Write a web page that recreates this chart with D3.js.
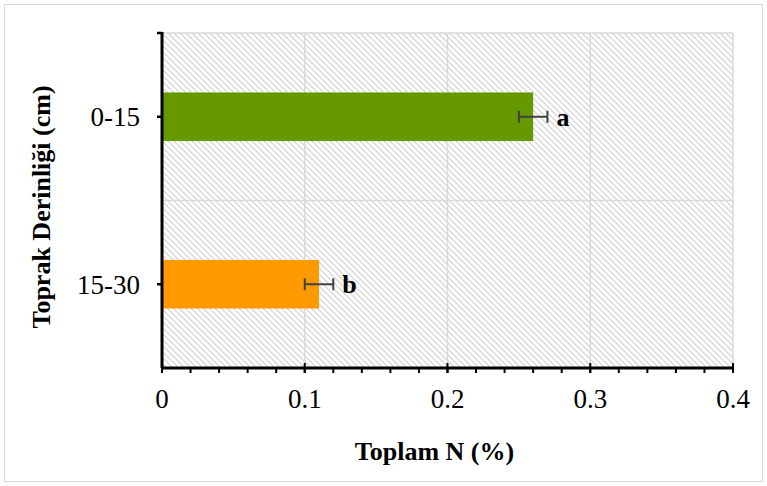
<!DOCTYPE html>
<html>
<head>
<meta charset="utf-8">
<script src="https://cdn.jsdelivr.net/npm/d3@7"></script>
<style>
  body { margin: 0; background: #fff; }
  svg text { font-family: "Liberation Serif", "Times New Roman", serif; }
</style>
</head>
<body>
<div id="chart"></div>
<script>
// Datos del gráfico
const derinlik = ["0-15", "15-30"];
const toplamN = [0.26, 0.11];
const hata = [0.01, 0.01];
const harfler = ["a", "b"];
const renkler = ["#669900", "#ff9900"];
const xTicks = [0, 0.1, 0.2, 0.3, 0.4];

const width = 767, height = 486;
const margin = { top: 33, right: 34, bottom: 118, left: 162 };
const iw = width - margin.left - margin.right;
const ih = height - margin.top - margin.bottom;

const svg = d3.select("#chart").append("svg")
    .attr("width", width)
    .attr("height", height);

// Marco exterior
svg.append("rect")
    .attr("x", 4.5).attr("y", 4.5)
    .attr("width", width - 9).attr("height", height - 9)
    .attr("fill", "#fff")
    .attr("stroke", "#d9d9d9");

// Patrón rayado del fondo
const pat = svg.append("defs").append("pattern")
    .attr("id", "rayas")
    .attr("patternUnits", "userSpaceOnUse")
    .attr("width", 6).attr("height", 6);
pat.append("path")
    .attr("d", "M-1,-1 L7,7 M-4,2 L4,10 M2,-4 L10,4")
    .attr("stroke", "#d6d6d6")
    .attr("stroke-width", 1.3);

const g = svg.append("g")
    .attr("transform", `translate(${margin.left},${margin.top})`);

const x = d3.scaleLinear().domain([0, 0.4]).range([0, iw]);
const y = d3.scaleBand().domain(derinlik).range([0, ih]).paddingInner(0).paddingOuter(0);
const barH = y.bandwidth() * 0.29;

g.append("rect")
    .attr("width", iw).attr("height", ih)
    .attr("fill", "url(#rayas)");

// Rejilla
g.selectAll(".vgrid")
    .data(xTicks.slice(1))
    .enter().append("line")
    .attr("x1", d => x(d)).attr("x2", d => x(d))
    .attr("y1", 0).attr("y2", ih)
    .attr("stroke", "#d9d9d9").attr("stroke-width", 1.5);

g.selectAll(".hgrid")
    .data([0, y.bandwidth()])
    .enter().append("line")
    .attr("x1", 0).attr("x2", iw)
    .attr("y1", d => d).attr("y2", d => d)
    .attr("stroke", "#d9d9d9").attr("stroke-width", 1.5);

// Barras
g.selectAll(".bar")
    .data(derinlik)
    .enter().append("rect")
    .attr("x", 0)
    .attr("y", d => y(d) + y.bandwidth() / 2 - barH / 2)
    .attr("width", (d, i) => x(toplamN[i]))
    .attr("height", barH)
    .attr("fill", (d, i) => renkler[i]);

// Barras de error
const err = g.selectAll(".err").data(derinlik).enter().append("g")
    .attr("transform", d => `translate(0,${y(d) + y.bandwidth() / 2})`)
    .attr("stroke", "#404040").attr("stroke-width", 2);
err.append("line")
    .attr("x1", (d, i) => x(toplamN[i] - hata[i]))
    .attr("x2", (d, i) => x(toplamN[i] + hata[i]));
err.append("line")
    .attr("x1", (d, i) => x(toplamN[i] - hata[i]))
    .attr("x2", (d, i) => x(toplamN[i] - hata[i]))
    .attr("y1", -6).attr("y2", 6);
err.append("line")
    .attr("x1", (d, i) => x(toplamN[i] + hata[i]))
    .attr("x2", (d, i) => x(toplamN[i] + hata[i]))
    .attr("y1", -6).attr("y2", 6);

// Letras de significancia
g.selectAll(".harf")
    .data(derinlik)
    .enter().append("text")
    .attr("x", (d, i) => x(toplamN[i] + hata[i]) + 9)
    .attr("y", d => y(d) + y.bandwidth() / 2)
    .attr("dy", "0.35em")
    .attr("font-size", 26)
    .attr("font-weight", "bold")
    .text((d, i) => harfler[i]);

// Eje X
const minor = d3.range(0, 0.4001, 0.02);
g.selectAll(".minor")
    .data(minor)
    .enter().append("line")
    .attr("x1", d => x(d)).attr("x2", d => x(d))
    .attr("y1", ih).attr("y2", ih + 5)
    .attr("stroke", "#000").attr("stroke-width", 2);
g.selectAll(".major")
    .data(xTicks)
    .enter().append("line")
    .attr("x1", d => x(d)).attr("x2", d => x(d))
    .attr("y1", ih - 5).attr("y2", ih + 5)
    .attr("stroke", "#000").attr("stroke-width", 2);
g.append("line")
    .attr("x1", -1).attr("x2", iw + 1)
    .attr("y1", ih).attr("y2", ih)
    .attr("stroke", "#000").attr("stroke-width", 3);
g.selectAll(".xlab")
    .data(xTicks)
    .enter().append("text")
    .attr("x", d => x(d))
    .attr("y", ih + 40)
    .attr("text-anchor", "middle")
    .attr("font-size", 27)
    .text(d => d === 0 ? "0" : d3.format(".1f")(d));

// Eje Y
g.append("line")
    .attr("x1", 0).attr("x2", 0)
    .attr("y1", -1).attr("y2", ih)
    .attr("stroke", "#000").attr("stroke-width", 3);
g.selectAll(".ytick")
    .data([0].concat(derinlik.map(d => y(d) + y.bandwidth() / 2)))
    .enter().append("line")
    .attr("x1", -5).attr("x2", 0)
    .attr("y1", d => d).attr("y2", d => d)
    .attr("stroke", "#000").attr("stroke-width", 2.5);
g.selectAll(".ylab")
    .data(derinlik)
    .enter().append("text")
    .attr("x", -22)
    .attr("y", d => y(d) + y.bandwidth() / 2)
    .attr("dy", "0.35em")
    .attr("text-anchor", "end")
    .attr("font-size", 27)
    .text(d => d);

// Títulos de los ejes
svg.append("text")
    .attr("x", margin.left + iw / 2 - 13)
    .attr("y", 460)
    .attr("text-anchor", "middle")
    .attr("font-size", 26)
    .attr("font-weight", "bold")
    .text("Toplam N (%)");

svg.append("text")
    .attr("transform", `translate(50,207) rotate(-90)`)
    .attr("text-anchor", "middle")
    .attr("font-size", 26)
    .attr("font-weight", "bold")
    .text("Toprak Derinliği (cm)");
</script>
</body>
</html>
